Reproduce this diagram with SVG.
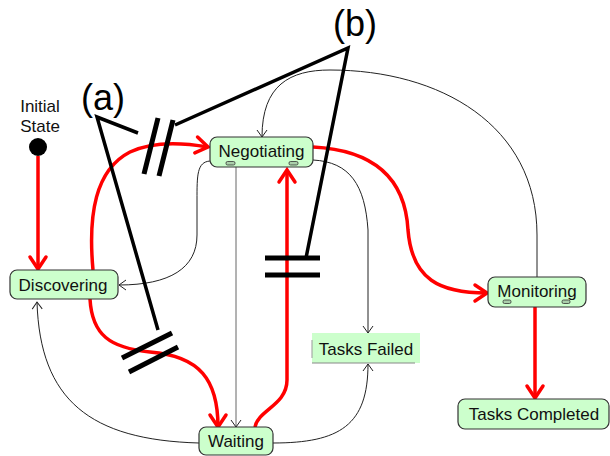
<svg xmlns="http://www.w3.org/2000/svg" width="610" height="456" viewBox="0 0 610 456">
  <style>
    .node rect.box { fill: #ccffcc; stroke: #333; stroke-width: 1.2; }
    .label { font-family: "Liberation Sans", Arial, sans-serif; font-size: 17px; fill: #111; text-anchor: middle; }
    .tick { fill: #aacfaa; stroke: #333; stroke-width: 0.8; }
    .red { fill: none; stroke: #ff0000; stroke-width: 3.5; marker-end: url(#redArrow); }
    .thin { fill: none; stroke: #222; stroke-width: 1; marker-end: url(#thinArrow); }
    .bar { stroke: #000; stroke-width: 5; }
    .pointer { stroke: #000; stroke-width: 3.5; fill: none; }
    .tag { font-family: "Liberation Sans", Arial, sans-serif; font-size: 36px; fill: #000; text-anchor: middle; }
  </style>
  <defs>
    <marker id="redArrow" markerUnits="userSpaceOnUse" viewBox="-16 -12 20 24" refX="0" refY="0" markerWidth="20" markerHeight="24" orient="auto">
      <path d="M-12,-8 L0,0 L-12,8" fill="none" stroke="#ff0000" stroke-width="3.5" stroke-linecap="round"/>
    </marker>
    <marker id="thinArrow" markerUnits="userSpaceOnUse" viewBox="-10 -8 12 16" refX="0" refY="0" markerWidth="12" markerHeight="16" orient="auto">
      <path d="M-7,-5 L0,0 L-7,5" fill="none" stroke="#222" stroke-width="1"/>
    </marker>
  </defs>

  <rect width="610" height="456" fill="#fff"/>

  <!-- transitions -->
  <g id="connectors">
    <path class="thin" d="M210,161 C197,162 197,175 197,200 L197,235 C197,268 170,285 119,285"/>
    <path class="thin" style="stroke:#666" d="M236,167 L236,427"/>
    <path class="thin" d="M313,160 C350,162 365,185 368,230 L368,333"/>
    <path class="thin" d="M537,277 L537,235 C537,125 440,70 330,70 C290,70 262,85 262,137"/>
    <path class="thin" d="M199,443 C90,440 40,400 37,302"/>
    <path class="thin" d="M273,443 C340,443 368,425 368,364"/>

    <path class="red" d="M38,156 L38,269"/>
    <path class="red" d="M93,270 C88,215 95,170 130,152 C155,140 185,143 208,147"/>
    <path class="red" d="M90,299 C92,335 110,348 150,352 C200,356 218,380 218,427"/>
    <path class="red" d="M255,427 C258,410 287,405 287,380 L287,170"/>
    <path class="red" d="M313,147 C370,150 405,175 408,230 C412,280 440,293 487,293"/>
    <path class="red" d="M535,307 L535,398"/>
  </g>

  <!-- initial state -->
  <g id="initial">
    <text class="label" x="40" y="112">Initial</text>
    <text class="label" x="40" y="132">State</text>
    <circle cx="38" cy="147" r="9" fill="#000"/>
  </g>

  <g id="negotiating" class="node">
    <rect class="box" x="210" y="137" width="103" height="30" rx="7"/>
    <text class="label" x="261.5" y="157">Negotiating</text>
    <rect class="tick" x="226" y="161.5" width="9" height="3.5" rx="1.5"/>
    <rect class="tick" x="289" y="161.5" width="9" height="3.5" rx="1.5"/>
  </g>

  <g id="discovering" class="node">
    <rect class="box" x="10" y="270" width="108" height="29" rx="7"/>
    <text class="label" x="63" y="291">Discovering</text>
  </g>

  <g id="tasks-failed" class="node">
    <rect x="312" y="333" width="108" height="30" fill="#ccffcc"/>
    <line x1="312" y1="340" x2="312" y2="358" stroke="#999" stroke-width="1"/>
    <line x1="312" y1="363" x2="415" y2="363" stroke="#888" stroke-width="1"/>
    <text class="label" x="366" y="355">Tasks Failed</text>
  </g>

  <g id="monitoring" class="node">
    <rect class="box" x="488" y="277" width="98" height="30" rx="7"/>
    <text class="label" x="537" y="297">Monitoring</text>
    <rect class="tick" x="503" y="300" width="8" height="3.5" rx="1.5"/>
    <rect class="tick" x="562" y="300" width="8" height="3.5" rx="1.5"/>
  </g>

  <g id="tasks-completed" class="node">
    <rect class="box" x="458" y="399" width="151" height="30" rx="7"/>
    <text class="label" x="534" y="420">Tasks Completed</text>
  </g>

  <g id="waiting" class="node">
    <rect class="box" x="199" y="427" width="74" height="28" rx="7"/>
    <text class="label" x="236" y="447">Waiting</text>
  </g>

  <!-- annotation (a) -->
  <g id="annotation-a">
    <text class="tag" x="103" y="110">(a)</text>
    <path class="pointer" d="M138,133 L97,117 L158,330"/>
    <line class="bar" x1="144" y1="174" x2="158" y2="118"/>
    <line class="bar" x1="159" y1="176" x2="173" y2="120"/>
    <line class="bar" x1="122" y1="358" x2="172" y2="333"/>
    <line class="bar" x1="129" y1="372" x2="178" y2="347"/>
  </g>

  <!-- annotation (b) -->
  <g id="annotation-b">
    <text class="tag" x="355" y="36">(b)</text>
    <path class="pointer" d="M175,125 L348,48 L306,258"/>
    <line class="bar" x1="265" y1="258" x2="320" y2="258"/>
    <line class="bar" x1="265" y1="275" x2="320" y2="275"/>
  </g>
</svg>
